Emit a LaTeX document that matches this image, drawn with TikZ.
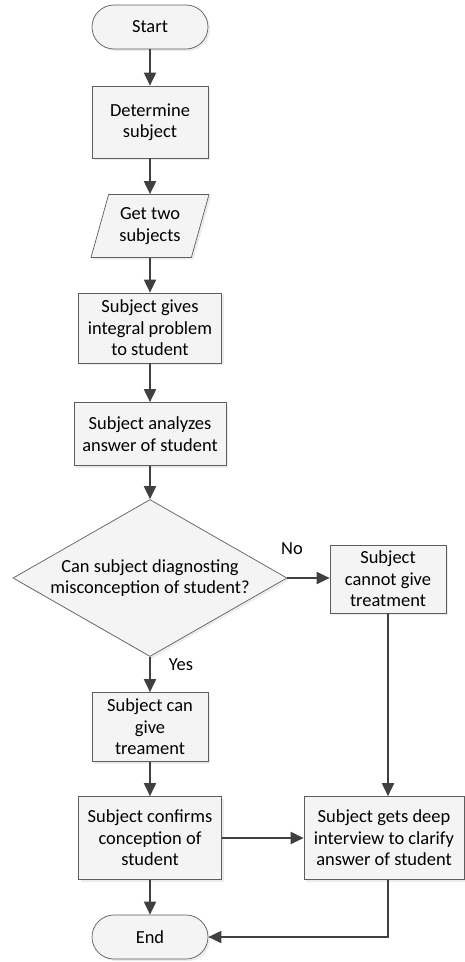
\documentclass[tikz,border=0pt]{standalone}
\usepackage{fontspec}
\setmainfont{Carlito}
\usetikzlibrary{shapes.geometric,arrows.meta,shadows}

\definecolor{linegray}{HTML}{404040}
\definecolor{boxfill}{HTML}{F4F4F4}

\tikzset{
    base/.style={draw=linegray!85, fill=boxfill, align=center, inner sep=2pt,
                 font=\fontsize{10.5}{12.2}\selectfont,
                 drop shadow={opacity=0.15, shadow xshift=1.2pt, shadow yshift=-1.2pt}},
    box/.style={base, rectangle},
    term/.style={base, rectangle, rounded corners=0.44cm,
                 minimum width=2.32cm, minimum height=0.88cm},
    io/.style={base, trapezium, trapezium left angle=68, trapezium right angle=112,
               trapezium stretches body, minimum width=2.36cm, minimum height=1.26cm},
    decision/.style={base, diamond, aspect=1.75, inner sep=0pt,
                 minimum width=5.48cm, minimum height=3.14cm},
    flow/.style={draw=linegray, line width=1.1pt,
                 -{Triangle[length=0.26cm, width=0.24cm]}},
    lbl/.style={font=\fontsize{10.5}{12}\selectfont}
}

\begin{document}
\begin{tikzpicture}[x=0.02cm, y=-0.02cm]
    \useasboundingbox (0,0) rectangle (464,962);

    % main column
    \node[term] (start) at (150,27) {Start};
    \node[box, minimum width=2.32cm, minimum height=1.44cm] (determine) at (150,122)
        {Determine\\subject};
    \node[io] (gettwo) at (150,226) {Get two\\subjects};
    \node[box, minimum width=2.86cm, minimum height=1.40cm] (gives) at (150,328)
        {Subject gives\\integral problem\\to student};
    \node[box, minimum width=3.04cm, minimum height=1.26cm] (analyzes) at (150,434)
        {Subject analyzes\\answer of student};
    \node[decision] (diagnose) at (150,578)
        {Can subject diagnosting\\misconception of student?};
    \node[box, minimum width=2.32cm, minimum height=1.38cm] (cangive) at (150,727)
        {Subject can\\give\\treament};
    \node[box, minimum width=2.86cm, minimum height=1.66cm] (confirms) at (150,838)
        {Subject confirms\\conception of\\student};
    \node[term] (end) at (150,937) {End};

    % right column
    \node[box, minimum width=2.32cm, minimum height=1.36cm] (cannot) at (388,579)
        {Subject\\cannot give\\treatment};
    \node[box, minimum width=3.2cm, minimum height=1.66cm] (deep) at (384,838)
        {Subject gets deep\\interview to clarify\\answer of student};

    % branch labels
    \node[lbl] (no) at (292,549) {No};
    \node[lbl] (yes) at (181,665) {Yes};

    % connectors
    \draw[flow] (start) -- (determine);
    \draw[flow] (determine) -- (gettwo);
    \draw[flow] (gettwo) -- (gives);
    \draw[flow] (gives) -- (analyzes);
    \draw[flow] (analyzes) -- (diagnose);
    \draw[flow] (diagnose.east) -- (cannot.west |- diagnose.east);
    \draw[flow] (diagnose) -- (cangive);
    \draw[flow] (cangive) -- (confirms);
    \draw[flow] (confirms) -- (deep);
    \draw[flow] (confirms) -- (end);
    \draw[flow] (cannot.south) -- (cannot.south |- deep.north);
    \draw[flow] (cannot.south |- deep.south) |- (end.east);
\end{tikzpicture}
\end{document}
